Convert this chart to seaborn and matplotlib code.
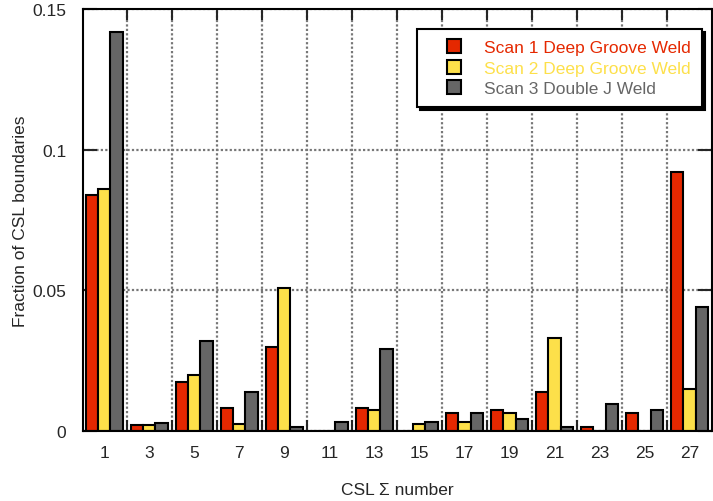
import pandas as pd
import numpy as np
import matplotlib
matplotlib.use('Agg')
import matplotlib.pyplot as plt
import seaborn as sns
from matplotlib.lines import Line2D
from matplotlib.ticker import FixedLocator, FormatStrFormatter

# CSL sigma numbers on the x axis
sigma = ['1', '3', '5', '7', '9', '11', '13', '15', '17', '19', '21', '23', '25', '27']

# fraction of CSL boundaries for each scan
scan1 = [0.084, 0.002, 0.0175, 0.008, 0.030, 0.0, 0.008, 0.0, 0.0064, 0.0075, 0.014, 0.0015, 0.0064, 0.092]
scan2 = [0.086, 0.002, 0.020, 0.0025, 0.051, 0.0, 0.0075, 0.0025, 0.0031, 0.0063, 0.033, 0.0, 0.0, 0.015]
scan3 = [0.142, 0.003, 0.032, 0.014, 0.0015, 0.0033, 0.029, 0.0033, 0.0064, 0.0044, 0.0015, 0.0095, 0.0075, 0.044]

series_names = ['Scan 1 Deep Groove Weld', 'Scan 2 Deep Groove Weld', 'Scan 3 Double J Weld']
colors = ['#e52800', '#fde04a', '#666666']

df = pd.DataFrame({
    'sigma': sigma * 3,
    'fraction': scan1 + scan2 + scan3,
    'scan': [series_names[0]] * len(sigma) + [series_names[1]] * len(sigma) + [series_names[2]] * len(sigma),
})

sns.set_style('white')
plt.rcParams['font.family'] = ['Liberation Sans', 'DejaVu Sans']

fig = plt.figure(figsize=(7.13, 5.02), dpi=100)
ax = fig.add_axes([83 / 713, 1 - 432 / 502, 629 / 713, 422 / 502])

sns.barplot(data=df, x='sigma', y='fraction', hue='scan', order=sigma, hue_order=series_names,
            palette=colors, saturation=1, edgecolor='black', linewidth=1.5, width=0.82, gap=0,
            legend=False, ax=ax)

ax.set_xlim(-0.47, len(sigma) - 0.5)
ax.set_ylim(0, 0.15)
ax.set_yticks([0, 0.05, 0.1, 0.15])
ax.yaxis.set_major_formatter(FormatStrFormatter('%g'))

# boundaries between groups carry the tick marks and grid lines
ax.xaxis.set_minor_locator(FixedLocator(np.arange(0.5, len(sigma) - 0.5, 1.0)))
ax.set_axisbelow(True)
ax.grid(which='minor', axis='x', color='#777777', linestyle=(0, (1, 1)), linewidth=1.6)
ax.grid(which='major', axis='y', color='#777777', linestyle=(0, (1, 1)), linewidth=1.6)
ax.grid(which='major', axis='x', visible=False)

ax.tick_params(axis='x', which='major', length=0, pad=10, labelsize=12.5)
ax.tick_params(axis='x', which='minor', direction='in', length=8, width=1.5, top=True, bottom=True)
ax.tick_params(axis='y', which='major', direction='in', length=10, width=1.5, left=True, right=True,
               pad=12, labelsize=12.5)

for sp in ax.spines.values():
    sp.set_visible(True)
    sp.set_color('black')
    sp.set_linewidth(1.5)

ax.set_xlabel('CSL \u03a3 number', fontsize=12.5, labelpad=16)
ax.set_ylabel('Fraction of CSL boundaries', fontsize=12.5, labelpad=3)

handles = [Line2D([], [], linestyle='none', marker='s', markersize=10, markerfacecolor=c,
                  markeredgecolor='black', markeredgewidth=1.5) for c in colors]
leg = ax.legend(handles, series_names, loc='upper right', bbox_to_anchor=(0.984, 0.953),
                borderaxespad=0, fontsize=12.5, frameon=True, fancybox=False, framealpha=1,
                edgecolor='black', handlelength=2.95, handletextpad=0.25, labelspacing=0.3,
                borderpad=0.65, labelcolor='markerfacecolor',
                shadow={'color': 'black', 'alpha': 1})
leg.get_frame().set_linewidth(1.5)

plt.savefig('out.png', dpi=100)
plt.close()
